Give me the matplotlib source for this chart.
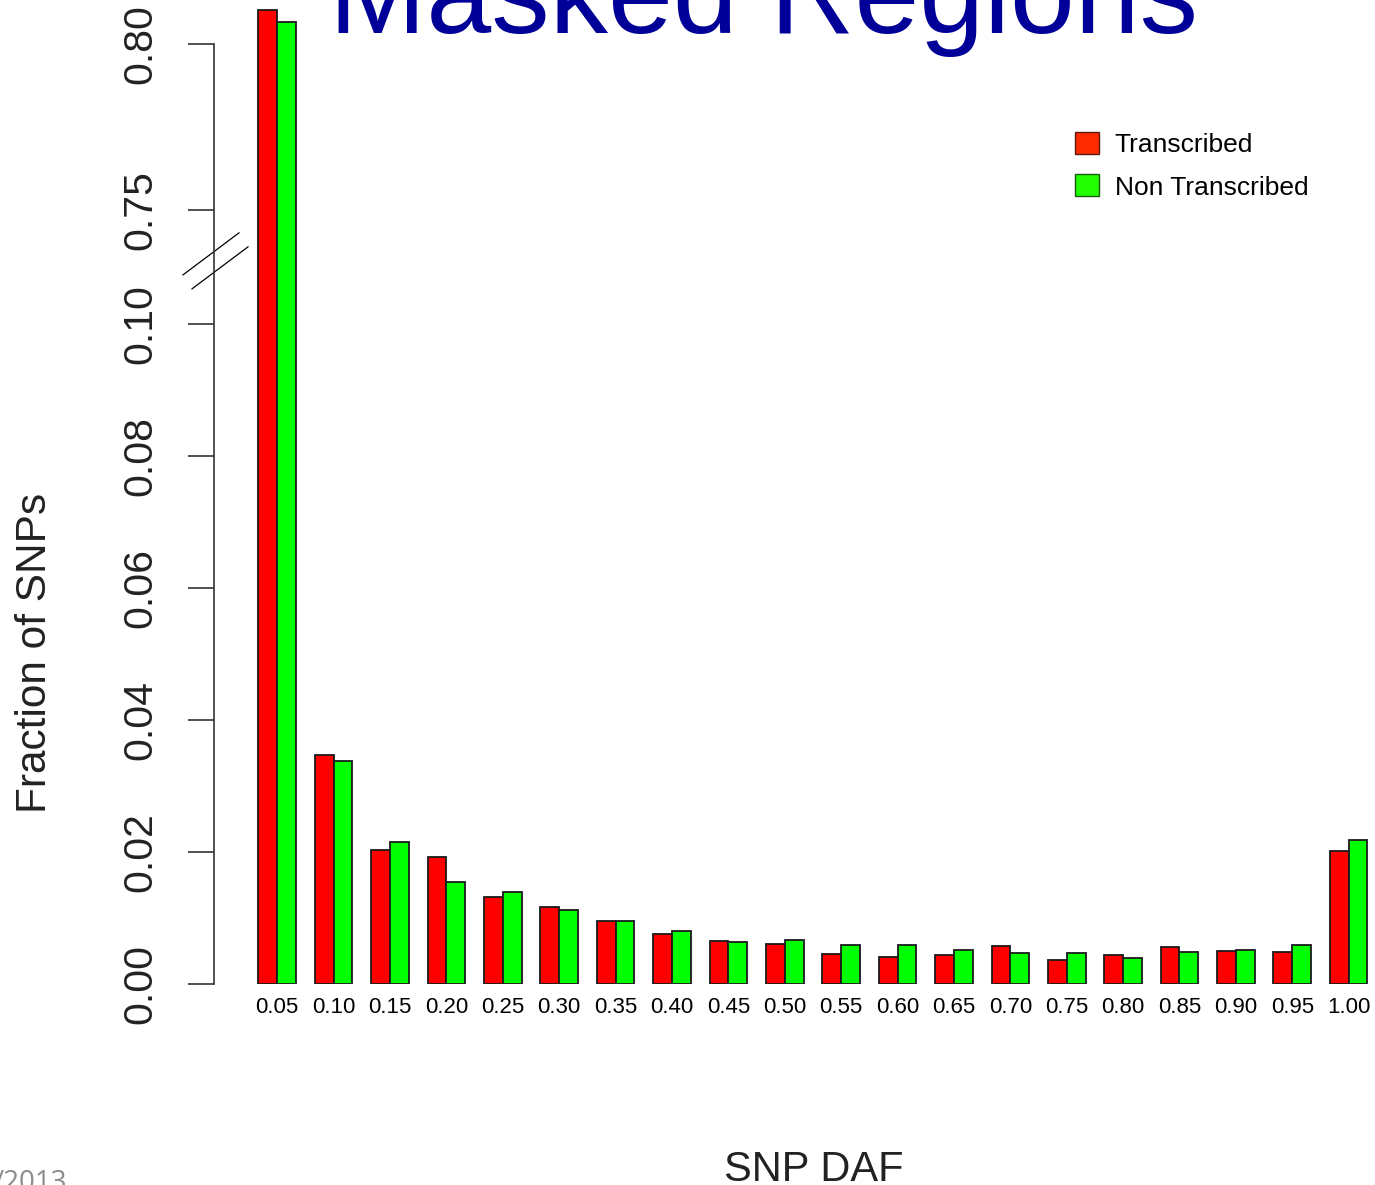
import numpy as np
import matplotlib
matplotlib.use("Agg")
import matplotlib.pyplot as plt
from matplotlib.patches import Patch

plt.rcParams['font.family'] = ['Liberation Sans', 'DejaVu Sans']

# data
daf = ["0.05", "0.10", "0.15", "0.20", "0.25", "0.30", "0.35", "0.40", "0.45", "0.50",
       "0.55", "0.60", "0.65", "0.70", "0.75", "0.80", "0.85", "0.90", "0.95", "1.00"]
transcribed = [0.8102, 0.0347, 0.0203, 0.0192, 0.0132, 0.0117, 0.0095, 0.0076, 0.0065, 0.0061,
               0.0045, 0.0041, 0.0044, 0.0058, 0.0036, 0.0044, 0.0056, 0.0050, 0.0048, 0.0202]
non_transcribed = [0.8066, 0.0338, 0.0215, 0.0155, 0.0139, 0.0112, 0.0095, 0.0080, 0.0064, 0.0067,
                   0.0059, 0.0059, 0.0052, 0.0047, 0.0047, 0.0039, 0.0048, 0.0052, 0.0059, 0.0218]
yticks = [0.0, 0.02, 0.04, 0.06, 0.08, 0.10, 0.75, 0.80]

# broken axis: lower part 0..brk_lo, upper part from brk_hi shown at half scale
brk_lo = 0.1079
brk_hi = 0.7313
k = 0.503


def forward(y):
    y = np.asarray(y, dtype=float)
    return np.where(y <= brk_lo, y, np.where(y >= brk_hi, brk_lo + (y - brk_hi) * k, brk_lo))


def inverse(u):
    u = np.asarray(u, dtype=float)
    return np.where(u <= brk_lo, u, brk_hi + (u - brk_lo) / k)


fig = plt.figure(figsize=(13.75, 11.85), dpi=100)
ax = fig.add_axes([214 / 1375, 1 - 984 / 1185, 1 - 214 / 1375, 984 / 1185])
ax.set_yscale('function', functions=(forward, inverse))

x = np.arange(len(daf)) * 3 + 2
red = '#ff0000'
green = '#00ff00'
ax.bar(x - 0.5, transcribed, width=1, color=red, edgecolor='#1a1a1a', linewidth=1.3)
ax.bar(x + 0.5, non_transcribed, width=1, color=green, edgecolor='#1a1a1a', linewidth=1.3)

ax.set_xlim(-1.36, 60.4)
ax.set_ylim(0, inverse(984 / 6600))

for s in ['top', 'right', 'bottom']:
    ax.spines[s].set_visible(False)
ax.spines['left'].set_bounds(0, 0.80)
ax.spines['left'].set_linewidth(1.2)
ax.spines['left'].set_color('#333333')

ax.set_yticks(yticks)
ax.set_yticklabels(["%.2f" % v for v in yticks])
ax.yaxis.set_minor_locator(matplotlib.ticker.NullLocator())
ax.tick_params(axis='y', length=18.7, width=1.2, color='#333333', pad=20.5,
               labelsize=29.5, labelrotation=90, labelcolor='#222222')
for lab in ax.get_yticklabels():
    lab.set_verticalalignment('center')
ax.set_xticks(x)
ax.set_xticklabels(daf)
ax.tick_params(axis='x', length=0, pad=9.5, labelsize=16)

# break marks
bf = brk_lo / (984 / 6600)
for dx, dy in [(0, 0), (9 / 1161, -14 / 984)]:
    ax.plot(np.array([-31, 25]) / 1161 + dx, np.array([bf - 3 / 984, bf + 39 / 984]) + dy,
            transform=ax.transAxes, color='black', lw=0.9, clip_on=False)

handles = [Patch(facecolor='#ff2a00', edgecolor='#5a1a10', label='Transcribed'),
           Patch(facecolor='#22ff00', edgecolor='#1a5a10', label='Non Transcribed')]
fig.legend(handles=handles, loc='upper left', bbox_to_anchor=(1075 / 1375, 1 - 132 / 1185),
           frameon=False, fontsize=19, handlelength=0.9, handleheight=0.9,
           handletextpad=0.6, labelspacing=0.66, borderpad=0, borderaxespad=0)

fig.text(764 / 1375, 1 - 33 / 1185, "Masked Regions", fontsize=84, color='#000099',
         ha='center', va='baseline')
fig.text(35 / 1375, 1 - 653 / 1185, "Fraction of SNPs", fontsize=30.5, rotation=90,
         ha='center', va='center', color='#222222')
fig.text(814 / 1375, 1 - 1181 / 1185, "SNP DAF", fontsize=30, ha='center', va='baseline',
         color='#222222')
fig.text(-6 / 1375, 1 - 1190 / 1185, "/2013", fontsize=20, color='#8c8c8c',
         ha='left', va='baseline', family=['Open Sans', 'DejaVu Sans'])

fig.savefig('out.png', dpi=100)
